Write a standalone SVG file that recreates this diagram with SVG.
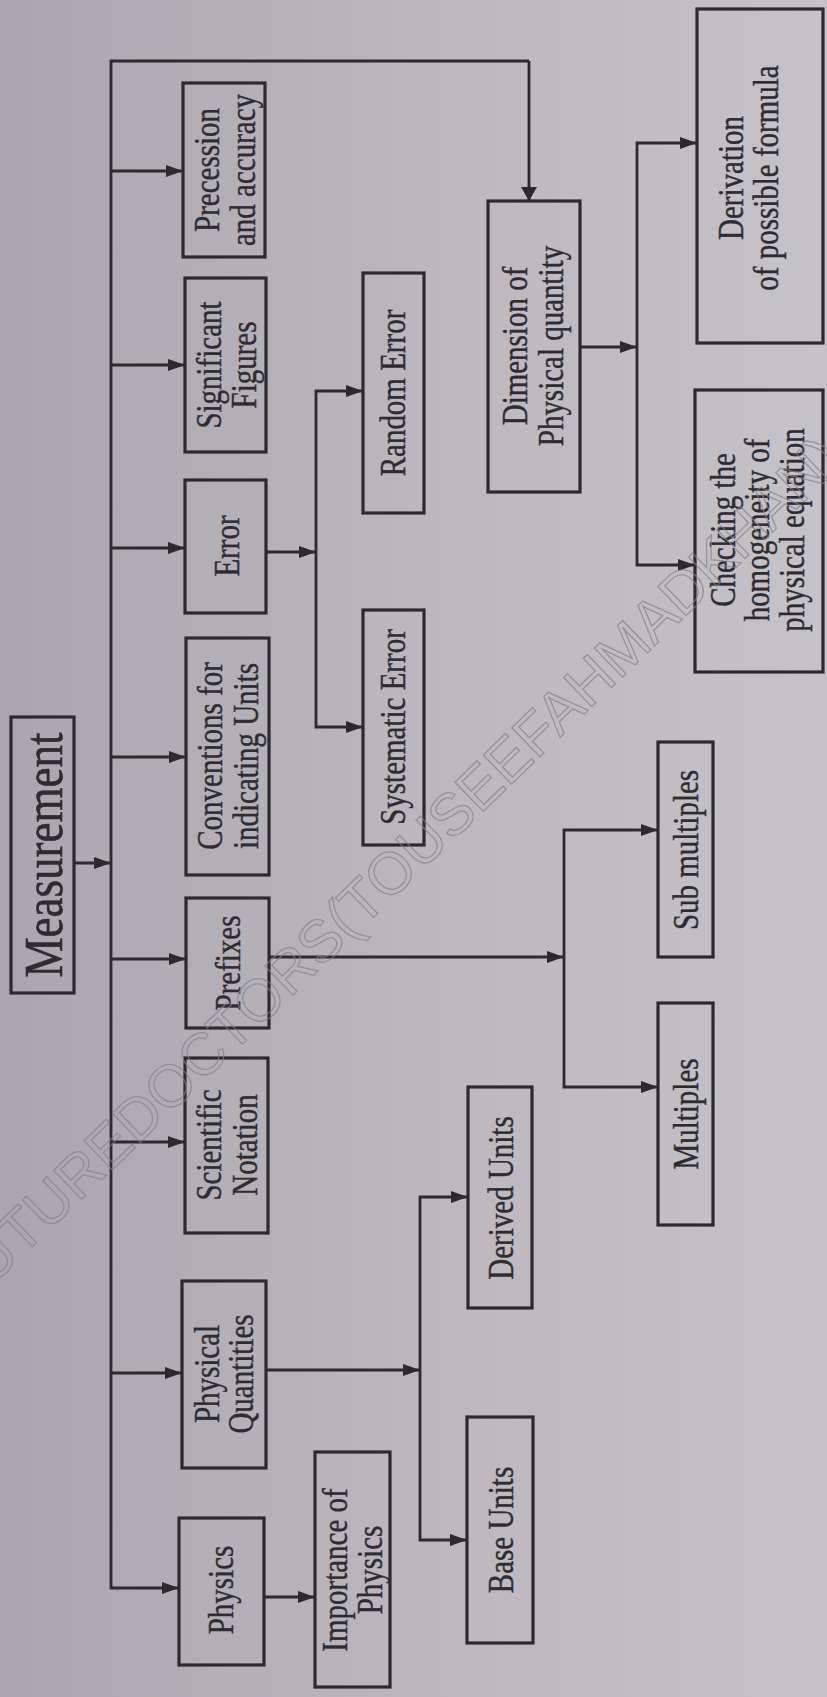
<svg xmlns="http://www.w3.org/2000/svg" width="827" height="1697" viewBox="0 0 827 1697">
<defs>
<linearGradient id="bg" x1="0" y1="0" x2="1" y2="0">
<stop offset="0" stop-color="#aaa6ad"/>
<stop offset="0.5" stop-color="#bbb7bd"/>
<stop offset="1" stop-color="#c6c3c8"/>
</linearGradient>
<marker id="ah" markerUnits="userSpaceOnUse" viewBox="0 0 18 14" markerWidth="18" markerHeight="14" refX="17" refY="7" orient="auto"><path d="M0,1 L17,7 L0,13 z" fill="#2c2a2f"/></marker>
<marker id="av" markerUnits="userSpaceOnUse" viewBox="0 0 15 16" markerWidth="15" markerHeight="16" refX="14" refY="8" orient="auto"><path d="M0,0 L14,8 L0,16 z" fill="#2c2a2f"/></marker>
</defs>
<style>
.box{fill:none;stroke:#2c2a2f;stroke-width:3.2}
.t{font-family:"Liberation Serif","Times New Roman",serif;font-size:29px;fill:#2e2c31;stroke:#2e2c31;stroke-width:0.35;text-anchor:middle;dominant-baseline:central}
.big{font-size:45px;stroke-width:0.5}
.c{fill:none;stroke:#2c2a2f;stroke-width:2.8}
.wm{font-family:"Liberation Sans",Arial,sans-serif;font-size:59px;fill:none;stroke:#85828a;stroke-width:1.3;opacity:0.7}
</style>
<rect x="0" y="0" width="827" height="1697" fill="url(#bg)"/>

<g id="connectors">
<path class="c" d="M529,61 H111 V1588 H179" marker-end="url(#ah)"/>
<path class="c" d="M529,61 V201" marker-end="url(#av)"/>
<path class="c" d="M74,863 H111" marker-end="url(#ah)"/>
<path class="c" d="M111,171 H183" marker-end="url(#ah)"/>
<path class="c" d="M111,365 H185" marker-end="url(#ah)"/>
<path class="c" d="M111,548 H185" marker-end="url(#ah)"/>
<path class="c" d="M111,757 H186" marker-end="url(#ah)"/>
<path class="c" d="M111,959 H186" marker-end="url(#ah)"/>
<path class="c" d="M111,1142 H185" marker-end="url(#ah)"/>
<path class="c" d="M111,1373 H182" marker-end="url(#ah)"/>
<path class="c" d="M266,552 H316" marker-end="url(#ah)"/>
<path class="c" d="M316,552 V391 H363" marker-end="url(#ah)"/>
<path class="c" d="M316,552 V727 H363" marker-end="url(#ah)"/>
<path class="c" d="M269,957 H564" marker-end="url(#ah)"/>
<path class="c" d="M564,957 V830 H658" marker-end="url(#ah)"/>
<path class="c" d="M564,957 V1087 H658" marker-end="url(#ah)"/>
<path class="c" d="M266,1370 H420" marker-end="url(#ah)"/>
<path class="c" d="M420,1370 V1197 H468" marker-end="url(#ah)"/>
<path class="c" d="M420,1370 V1540 H467" marker-end="url(#ah)"/>
<path class="c" d="M264,1597 H315" marker-end="url(#ah)"/>
<path class="c" d="M580,347 H637" marker-end="url(#ah)"/>
<path class="c" d="M637,347 V143 H697" marker-end="url(#ah)"/>
<path class="c" d="M637,347 V565 H695" marker-end="url(#ah)"/>
</g>

<g id="measurement">
<rect class="box" x="11" y="717" width="63" height="276"/>
<text class="t big" transform="translate(43 855) rotate(-90) scale(1 1.22)">Measurement</text>
</g>
<g id="precession">
<rect class="box" x="183" y="83" width="82" height="174"/>
<text class="t" transform="translate(207 170) rotate(-90) scale(1 1.22)">Precession</text>
<text class="t" transform="translate(243 170) rotate(-90) scale(1 1.22)">and accuracy</text>
</g>
<g id="significant">
<rect class="box" x="185" y="278" width="81" height="174"/>
<text class="t" transform="translate(209 365) rotate(-90) scale(1 1.22)">Significant</text>
<text class="t" transform="translate(244 365) rotate(-90) scale(1 1.22)">Figures</text>
</g>
<g id="error">
<rect class="box" x="185" y="480" width="81" height="133"/>
<text class="t" transform="translate(227 546) rotate(-90) scale(1 1.22)">Error</text>
</g>
<g id="conventions">
<rect class="box" x="186" y="638" width="83" height="237"/>
<text class="t" transform="translate(210 756) rotate(-90) scale(1 1.22)">Conventions for</text>
<text class="t" transform="translate(246 756) rotate(-90) scale(1 1.22)">indicating Units</text>
</g>
<g id="prefixes">
<rect class="box" x="186" y="898" width="83" height="130"/>
<text class="t" transform="translate(228 963) rotate(-90) scale(1 1.22)">Prefixes</text>
</g>
<g id="scientific">
<rect class="box" x="185" y="1058" width="83" height="175"/>
<text class="t" transform="translate(209 1145) rotate(-90) scale(1 1.22)">Scientific</text>
<text class="t" transform="translate(245 1145) rotate(-90) scale(1 1.22)">Notation</text>
</g>
<g id="physical-quantities">
<rect class="box" x="182" y="1281" width="84" height="187"/>
<text class="t" transform="translate(207 1374) rotate(-90) scale(1 1.22)">Physical</text>
<text class="t" transform="translate(241 1374) rotate(-90) scale(1 1.22)">Quantities</text>
</g>
<g id="physics">
<rect class="box" x="179" y="1518" width="85" height="147"/>
<text class="t" transform="translate(221 1590) rotate(-90) scale(1 1.22)">Physics</text>
</g>
<g id="importance">
<rect class="box" x="315" y="1452" width="75" height="235"/>
<text class="t" transform="translate(335 1570) rotate(-90) scale(1 1.22)">Importance of</text>
<text class="t" transform="translate(370 1570) rotate(-90) scale(1 1.22)">Physics</text>
</g>
<g id="random-error">
<rect class="box" x="363" y="273" width="61" height="240"/>
<text class="t" transform="translate(393 393) rotate(-90) scale(1 1.22)">Random Error</text>
</g>
<g id="systematic-error">
<rect class="box" x="363" y="610" width="61" height="235"/>
<text class="t" transform="translate(393 727) rotate(-90) scale(1 1.22)">Systematic Error</text>
</g>
<g id="dimension">
<rect class="box" x="488" y="201" width="92" height="291"/>
<text class="t" transform="translate(515 346) rotate(-90) scale(1 1.22)">Dimension of</text>
<text class="t" transform="translate(551 346) rotate(-90) scale(1 1.22)">Physical quantity</text>
</g>
<g id="derivation">
<rect class="box" x="697" y="9" width="126" height="334"/>
<text class="t" transform="translate(731 178) rotate(-90) scale(1 1.22)">Derivation</text>
<text class="t" transform="translate(766 178) rotate(-90) scale(1 1.22)">of possible formula</text>
</g>
<g id="checking">
<rect class="box" x="695" y="390" width="128" height="282"/>
<text class="t" transform="translate(723 530) rotate(-90) scale(1 1.22)">Checking the</text>
<text class="t" transform="translate(757 530) rotate(-90) scale(1 1.22)">homogeneity of</text>
<text class="t" transform="translate(792 530) rotate(-90) scale(1 1.22)">physical equation</text>
</g>
<g id="sub-multiples">
<rect class="box" x="658" y="742" width="55" height="215"/>
<text class="t" transform="translate(686 850) rotate(-90) scale(1 1.22)">Sub multiples</text>
</g>
<g id="multiples">
<rect class="box" x="658" y="1003" width="55" height="222"/>
<text class="t" transform="translate(686 1114) rotate(-90) scale(1 1.22)">Multiples</text>
</g>
<g id="derived-units">
<rect class="box" x="468" y="1087" width="64" height="221"/>
<text class="t" transform="translate(501 1198) rotate(-90) scale(1 1.22)">Derived Units</text>
</g>
<g id="base-units">
<rect class="box" x="467" y="1417" width="66" height="226"/>
<text class="t" transform="translate(501 1530) rotate(-90) scale(1 1.22)">Base Units</text>
</g>

<g id="watermark">
<text class="wm" transform="translate(-35 1312) rotate(-44)">FUTUREDOCTORS(TOUSEEFAHMADKHAN)</text>
</g>
</svg>
